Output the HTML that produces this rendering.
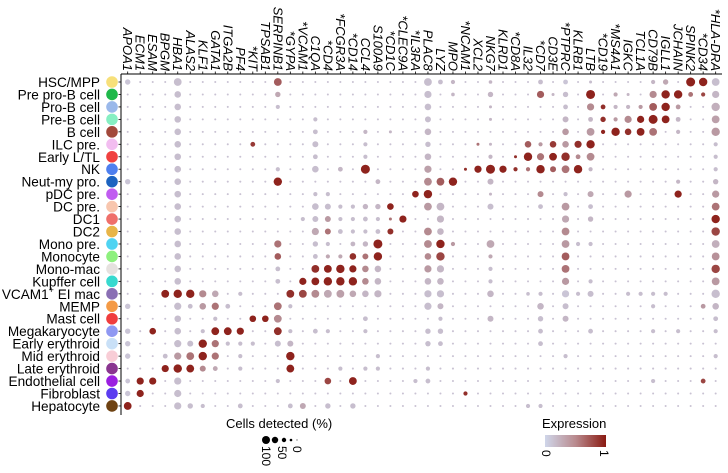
<!DOCTYPE html>
<html><head><meta charset="utf-8">
<style>
html,body{margin:0;padding:0;background:#fff;}
svg{display:block;font-family:"Liberation Sans",Arial,sans-serif;}
</style></head>
<body>
<svg id="chart" width="728" height="473" viewBox="0 0 728 473" xmlns="http://www.w3.org/2000/svg">
<defs>
<linearGradient id="expgrad" x1="0" x2="1" y1="0" y2="0">
<stop offset="0" stop-color="#cfd6ea"/><stop offset="0.5" stop-color="#b98a8e"/><stop offset="1" stop-color="#8a1a12"/>
</linearGradient>
</defs>
<g id="axes"></g>
<g id="dots"></g>
<g id="legend">
<text x="226" y="428" font-size="13">Cells detected (%)</text>
<circle cx="266" cy="440" r="4" fill="#000"/>
<circle cx="275" cy="440" r="3.2" fill="#000"/>
<circle cx="284" cy="440" r="2.2" fill="#000"/>
<circle cx="291" cy="440" r="1.3" fill="#000"/>
<circle cx="297" cy="440" r="0.7" fill="#777"/>
<text transform="translate(262,446) rotate(90)" font-size="12">100</text>
<text transform="translate(278,446) rotate(90)" font-size="12">50</text>
<text transform="translate(293,446) rotate(90)" font-size="12">0</text>
<text x="542" y="428" font-size="13">Expression</text>
<rect x="545" y="435" width="61" height="12" fill="url(#expgrad)"/>
<text transform="translate(542,450) rotate(90)" font-size="12">0</text>
<text transform="translate(600,450) rotate(90)" font-size="12">1</text>
</g>
</svg>
<script>
const genes = ["APOA1","ECM1","ESAM","BPGM","HBA1","ALAS2","KLF1","GATA1","ITGA2B","PF4","*KIT","TPSAB1","SERPINB1","*GYPA","*VCAM1","C1QA","*CD4","*FCGR3A","*CD14","CCL4","S100A9","*CD1C","*CLEC9A","*IL3RA","PLAC8","LYZ","MPO","*NCAM1","XCL2","NKG7","KLRD1","*CD8A","IL32","*CD7","CD3E","*PTPRC","KLRB1","LTB","*CD19","*MS4A1","IGKC","TCL1A","CD79B","IGLL1","JCHAIN","SPINK2","*CD34","*HLA-DRA"];
const cellTypeNames = ["HSC/MPP","Pre pro-B cell","Pro-B cell","Pre-B cell","B cell","ILC pre.","Early L/TL","NK","Neut-my pro.","pDC pre.","DC pre.","DC1","DC2","Mono pre.","Monocyte","Mono-mac","Kupffer cell","VCAM1+ EI mac","MEMP","Mast cell","Megakaryocyte","Early erythroid","Mid erythroid","Late erythroid","Endothelial cell","Fibroblast","Hepatocyte"];
const cellColors = ["#f7e07a","#1fb84a","#9ab8ea","#86efc2","#a2493b","#f2bdf0","#f0413f","#4e7fef","#1c63c0","#c05cf0","#f8c6ae","#ef6f6a","#e8b548","#4fd3f2","#8ef07e","#e6e1df","#38d9cf","#8a6fb4","#f49a46","#f03d3d","#8f98f2","#c9e0f7","#f8cdd6","#8a3590","#9a1ee0","#5c3df0","#6e4212"];
// [rowIndex, colIndex, pctDetected, expression]
const dotData = [
[0,0,40,10],[0,4,60,15],[0,12,60,70],[0,24,60,15],[0,25,35,15],[0,26,30,20],[0,29,25,20],[0,33,35,15],[0,35,35,10],[0,37,20,15],[0,42,30,20],[0,43,40,30],[0,45,70,95],[0,46,65,95],[0,47,60,15],
[1,4,50,15],[1,12,40,30],[1,24,55,15],[1,26,25,20],[1,29,40,20],[1,33,55,70],[1,34,20,20],[1,35,40,15],[1,37,70,95],[1,39,30,30],[1,40,20,20],[1,42,55,50],[1,43,65,95],[1,44,65,95],[1,45,35,60],[1,46,30,80],[1,47,55,20],
[2,4,50,15],[2,12,30,15],[2,24,50,15],[2,29,20,20],[2,35,35,15],[2,37,55,50],[2,38,35,90],[2,39,30,20],[2,40,30,20],[2,41,30,40],[2,42,60,70],[2,43,65,95],[2,44,35,40],[2,47,65,25],
[3,4,50,15],[3,15,30,15],[3,24,45,15],[3,29,20,20],[3,35,45,20],[3,37,35,20],[3,38,40,90],[3,39,30,40],[3,40,55,50],[3,41,55,95],[3,42,70,95],[3,43,60,95],[3,44,35,20],[3,47,60,35],
[4,4,50,15],[4,15,35,15],[4,19,30,20],[4,21,20,20],[4,24,50,20],[4,35,50,40],[4,37,60,40],[4,38,30,95],[4,39,65,95],[4,40,50,90],[4,41,60,95],[4,42,60,60],[4,44,30,20],[4,47,65,40],
[5,4,50,15],[5,10,35,85],[5,15,45,15],[5,19,30,15],[5,24,40,15],[5,28,20,60],[5,29,20,20],[5,32,50,70],[5,33,30,40],[5,34,50,85],[5,35,50,40],[5,36,55,90],[5,37,65,95],[5,47,30,15],
[6,4,50,15],[6,15,35,15],[6,19,30,15],[6,24,50,20],[6,29,30,20],[6,31,20,90],[6,32,65,95],[6,33,55,60],[6,34,60,95],[6,35,65,90],[6,36,35,50],[6,37,60,50],[6,47,30,15],
[7,4,50,15],[7,12,30,15],[7,15,50,15],[7,17,35,20],[7,19,70,95],[7,24,55,35],[7,27,20,90],[7,28,55,95],[7,29,70,95],[7,30,55,95],[7,31,30,90],[7,32,30,60],[7,33,65,95],[7,34,45,70],[7,35,60,60],[7,36,65,95],[7,37,30,20],[7,47,30,15],
[8,0,40,10],[8,4,50,15],[8,12,65,95],[8,20,35,20],[8,24,60,50],[8,25,60,70],[8,26,65,95],[8,29,45,20],[8,44,30,20],[8,47,40,20],
[9,4,50,15],[9,15,30,15],[9,16,30,15],[9,23,50,95],[9,24,65,95],[9,29,20,20],[9,33,45,50],[9,35,30,15],[9,37,45,30],[9,40,55,40],[9,44,55,95],[9,47,55,40],
[10,4,50,15],[10,15,50,15],[10,16,45,15],[10,17,30,15],[10,18,30,15],[10,19,40,20],[10,20,40,20],[10,21,50,95],[10,24,60,40],[10,25,60,20],[10,29,45,15],[10,33,35,15],[10,35,60,40],[10,37,35,15],[10,47,60,60],
[11,4,50,15],[11,14,30,15],[11,15,45,15],[11,16,45,40],[11,17,30,15],[11,18,30,15],[11,19,35,15],[11,20,30,15],[11,21,20,60],[11,22,55,95],[11,25,55,20],[11,35,55,30],[11,37,40,20],[11,47,65,95],
[12,4,50,15],[12,15,55,30],[12,16,45,60],[12,17,35,15],[12,18,30,15],[12,19,30,15],[12,20,35,15],[12,21,45,90],[12,24,60,50],[12,25,50,20],[12,35,60,50],[12,47,65,80],
[13,4,50,15],[13,12,55,60],[13,15,40,15],[13,16,30,15],[13,18,35,20],[13,19,40,20],[13,20,70,95],[13,24,60,50],[13,25,65,95],[13,26,30,40],[13,29,60,30],[13,35,60,40],[13,36,30,15],[13,37,30,15],[13,47,60,25],
[14,4,50,15],[14,12,50,70],[14,15,35,15],[14,16,30,30],[14,17,30,30],[14,18,50,90],[14,19,45,60],[14,20,65,95],[14,24,50,50],[14,25,65,80],[14,29,30,30],[14,35,60,70],[14,47,60,45],
[15,4,50,15],[15,12,35,15],[15,15,60,90],[15,16,60,95],[15,17,65,95],[15,18,55,95],[15,19,50,50],[15,20,50,20],[15,24,55,40],[15,25,55,20],[15,29,30,15],[15,35,60,60],[15,47,65,80],
[16,4,50,15],[16,12,35,15],[16,14,55,95],[16,15,60,95],[16,16,65,95],[16,17,65,95],[16,18,65,95],[16,19,50,50],[16,20,50,20],[16,24,50,20],[16,25,50,20],[16,29,30,15],[16,35,55,40],[16,37,30,15],[16,47,60,40],
[17,3,60,95],[17,4,65,95],[17,5,65,95],[17,6,55,50],[17,7,50,30],[17,9,30,15],[17,13,60,90],[17,14,60,80],[17,15,60,50],[17,16,60,30],[17,17,60,35],[17,18,50,30],[17,19,50,20],[17,20,55,20],[17,24,55,15],[17,25,55,15],[17,29,50,20],[17,32,25,15],[17,33,30,15],[17,35,55,10],[17,36,30,15],[17,37,45,15],[17,40,30,15],[17,41,30,15],[17,42,30,15],[17,43,30,15],[17,47,65,15],
[18,0,40,10],[18,4,55,15],[18,5,35,15],[18,6,50,40],[18,7,55,60],[18,8,35,15],[18,12,60,60],[18,13,30,15],[18,24,55,15],[18,25,45,20],[18,33,50,20],[18,35,45,15],[18,42,30,15],[18,46,35,40],[18,47,50,20],
[19,4,50,15],[19,7,30,15],[19,10,50,95],[19,11,50,95],[19,12,60,50],[19,19,35,15],[19,25,30,15],[19,29,45,20],[19,33,40,15],[19,35,45,20],[19,47,35,15],
[20,0,40,10],[20,2,50,95],[20,4,50,15],[20,6,30,15],[20,7,60,95],[20,8,60,95],[20,9,55,95],[20,12,60,90],[20,13,30,15],[20,15,35,15],[20,16,30,15],[20,19,30,15],[20,24,40,15],[20,25,40,15],[20,33,35,15],[20,37,35,15],[20,42,30,15],[20,44,30,15],[20,47,30,15],
[21,0,40,10],[21,4,55,15],[21,5,45,15],[21,6,65,95],[21,7,55,60],[21,8,30,15],[21,9,30,15],[21,10,30,15],[21,12,45,15],[21,13,45,20],[21,24,40,15],[21,25,35,15],[21,33,35,15],
[22,0,40,10],[22,3,35,15],[22,4,55,40],[22,5,60,60],[22,6,65,95],[22,7,55,60],[22,9,30,15],[22,13,65,95],[22,20,30,15],[22,35,30,15],[22,47,30,15],
[23,3,55,95],[23,4,65,95],[23,5,60,95],[23,6,45,50],[23,7,35,30],[23,9,30,15],[23,13,60,95],[23,17,30,15],[23,19,30,15],[23,20,30,15],[23,24,30,15],
[24,0,35,10],[24,1,55,95],[24,2,55,95],[24,4,55,15],[24,12,30,15],[24,16,50,80],[24,18,60,95],[24,23,30,15],[24,24,35,15],[24,42,30,15],[24,46,35,80],
[25,0,40,10],[25,1,55,95],[25,4,55,15],[25,27,30,90],
[26,0,60,95],[26,4,55,15],[26,5,40,15],[26,6,30,15],[26,9,35,15],[26,13,35,15],[26,14,45,30],[26,16,40,15],[26,18,40,15],[26,32,30,15],[26,33,30,15]
];
const bgPct = 12, bgExpr = 12;

const NS = "http://www.w3.org/2000/svg";
const x0 = 127.7, dx = 12.51, y0 = 82, dy = 12.46;
function xScale(c){ return x0 + dx*c; }
function yScale(r){ return y0 + dy*r; }
function rScale(p){ return 0.3 + 6*p/100; }
function cScale(e){
  const t = Math.max(0,Math.min(1,e/100));
  const a=[207,212,232], m=[180,138,144], b=[138,24,16];
  let c;
  if(t<0.5){const u=t/0.5; c=a.map((v,i)=>Math.round(v+(m[i]-v)*u));}
  else {const u=(t-0.5)/0.5; c=m.map((v,i)=>Math.round(v+(b[i]-v)*u));}
  return "rgb("+c.join(",")+")";
}
function mk(tag, attrs){ const e=document.createElementNS(NS,tag); for(const k in attrs) e.setAttribute(k,attrs[k]); return e; }

const axes = document.getElementById("axes");
const axL = 121, axR = 722, axT = 74, axB = 415;
let l = mk("line",{x1:axL,y1:axT,x2:axR,y2:axT,stroke:"#000","stroke-width":1});


axes.appendChild(l);
l = mk("line",{x1:axL,y1:axT,x2:axL,y2:axB,stroke:"#000","stroke-width":1});


axes.appendChild(l);

genes.forEach((g,c)=>{
  const x = xScale(c);
  const t = mk("line",{x1:x,y1:axT,x2:x,y2:axT-2.5,stroke:"#000","stroke-width":0.8});
  
  
  axes.appendChild(t);
  const tx = mk("text",{transform:"translate("+(x-4.5)+","+(axT-3)+") rotate(90)","text-anchor":"end","font-size":"13","font-style":"italic"});
  tx.textContent = g;
  
  
  axes.appendChild(tx);
});

cellTypeNames.forEach((n,r)=>{
  const y = yScale(r);
  const t = mk("line",{x1:axL,y1:y,x2:axL-2.5,y2:y,stroke:"#000","stroke-width":0.8});
  
  
  axes.appendChild(t);
  const tx = mk("text",{x:100,y:y+5,"text-anchor":"end","font-size":"13.6"});
  if(n.indexOf("VCAM1+")===0){
    tx.appendChild(document.createTextNode("VCAM1"));
    const ts = mk("tspan",{"font-size":"9",dy:"-6"}); ts.textContent="+"; tx.appendChild(ts);
    const ts2 = mk("tspan",{dy:"6"}); ts2.textContent=" EI mac"; tx.appendChild(ts2);
  } else tx.textContent = n;
  
  
  axes.appendChild(tx);
  const ci = mk("circle",{cx:112,cy:y,r:5.8,fill:cellColors[r]});
  
  
  axes.appendChild(ci);
});

const dotsG = document.getElementById("dots");
const grid = {};
dotData.forEach(d=>{ grid[d[0]+"_"+d[1]] = d; });
for(let r=0;r<cellTypeNames.length;r++){
  for(let c=0;c<genes.length;c++){
    const d = grid[r+"_"+c];
    const p = d ? d[2] : bgPct, e = d ? d[3] : bgExpr;
    const ci = mk("circle",{cx:xScale(c).toFixed(2),cy:yScale(r).toFixed(2),r:rScale(p).toFixed(2),fill:cScale(e)});
    
    
    dotsG.appendChild(ci);
  }
}
</script>
</body></html>
